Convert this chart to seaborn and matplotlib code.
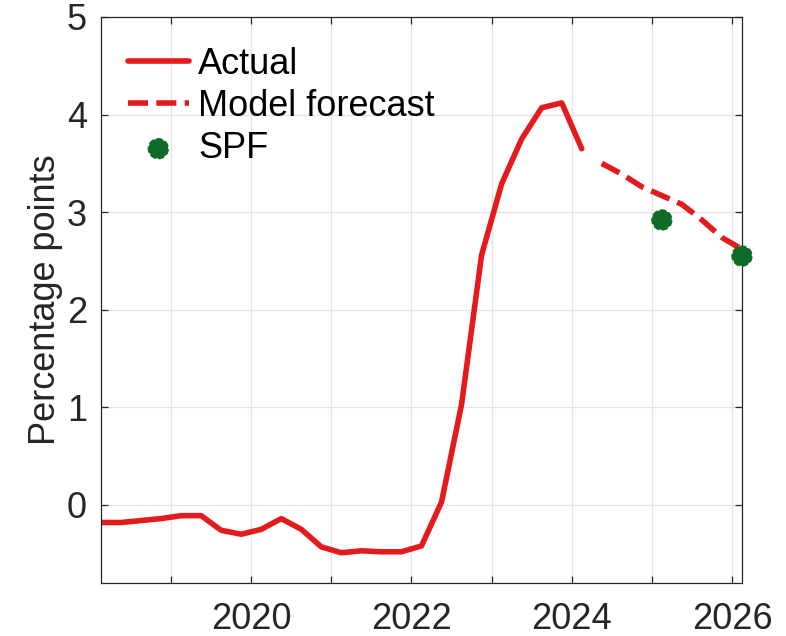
import numpy as np
import pandas as pd
import matplotlib
matplotlib.use("Agg")
import matplotlib.pyplot as plt
import seaborn as sns

# Quarterly values (year fraction, percentage points)
actual_dates = [2018.125 + 0.25 * i for i in range(25)]
actual_vals = [-0.18, -0.18, -0.16, -0.14, -0.11, -0.11, -0.26, -0.30, -0.25,
               -0.14, -0.25, -0.43, -0.49, -0.47, -0.48, -0.48, -0.42, 0.03,
               1.03, 2.56, 3.29, 3.75, 4.07, 4.12, 3.65]

forecast_dates = [2024.375 + 0.25 * i for i in range(8)]
forecast_vals = [3.50, 3.39, 3.26, 3.17, 3.08, 2.92, 2.74, 2.62]

spf_dates = [2025.125, 2026.125]
spf_vals = [2.92, 2.55]

x_ticks = [2019, 2020, 2021, 2022, 2023, 2024, 2025, 2026]
x_labels = ["", "2020", "", "2022", "", "2024", "", "2026"]
y_ticks = [0, 1, 2, 3, 4, 5]

red = "#E41A1C"
green = "#0F6B28"
dark = "#262626"

sns.set_style("ticks")
plt.rcParams["font.family"] = ["Liberation Sans", "DejaVu Sans"]

actual = pd.DataFrame({"date": actual_dates, "value": actual_vals})
forecast = pd.DataFrame({"date": forecast_dates, "value": forecast_vals})
spf = pd.DataFrame({"date": spf_dates, "value": spf_vals})

fig = plt.figure(figsize=(7.86, 6.36), dpi=100)
ax = fig.add_axes([101 / 786, 1 - 583 / 636, 641 / 786, 566 / 636])

sns.lineplot(data=actual, x="date", y="value", color=red, linewidth=4,
             label="Actual", ax=ax)
sns.lineplot(data=forecast, x="date", y="value", color=red, linewidth=4,
             label="Model forecast", ax=ax)
ax.lines[-1].set_linestyle((0, (3.6, 1.5)))
sns.scatterplot(data=spf, x="date", y="value", color=green, s=200,
                edgecolor=green, linewidth=1.2, linestyle="--",
                label="SPF", ax=ax, zorder=5, clip_on=False)

ax.set_xlim(2018.125, 2026.125)
ax.set_ylim(-0.8, 5)
ax.set_xticks(x_ticks)
ax.set_xticklabels(x_labels)
ax.set_yticks(y_ticks)
ax.grid(True, color="#E3E3E3", linewidth=0.9)
ax.set_axisbelow(True)

for side in ["top", "right", "left", "bottom"]:
    ax.spines[side].set_visible(True)
    ax.spines[side].set_color(dark)
    ax.spines[side].set_linewidth(0.9)

ax.tick_params(direction="in", length=5, width=0.9, color=dark,
               top=True, right=True, labelsize=26, labelcolor=dark)
ax.tick_params(axis="x", pad=14)
ax.tick_params(axis="y", pad=10)

ax.set_xlabel("")
ax.set_ylabel("Percentage points", fontsize=26, color=dark, labelpad=3)

leg = ax.legend(loc="upper left", frameon=False, fontsize=26,
                handlelength=1.7, handletextpad=0.25, labelspacing=0.2,
                borderaxespad=0.0, bbox_to_anchor=(0.019, 0.973))
for t in leg.get_texts():
    t.set_color("black")

fig.savefig("out.png", dpi=100)
